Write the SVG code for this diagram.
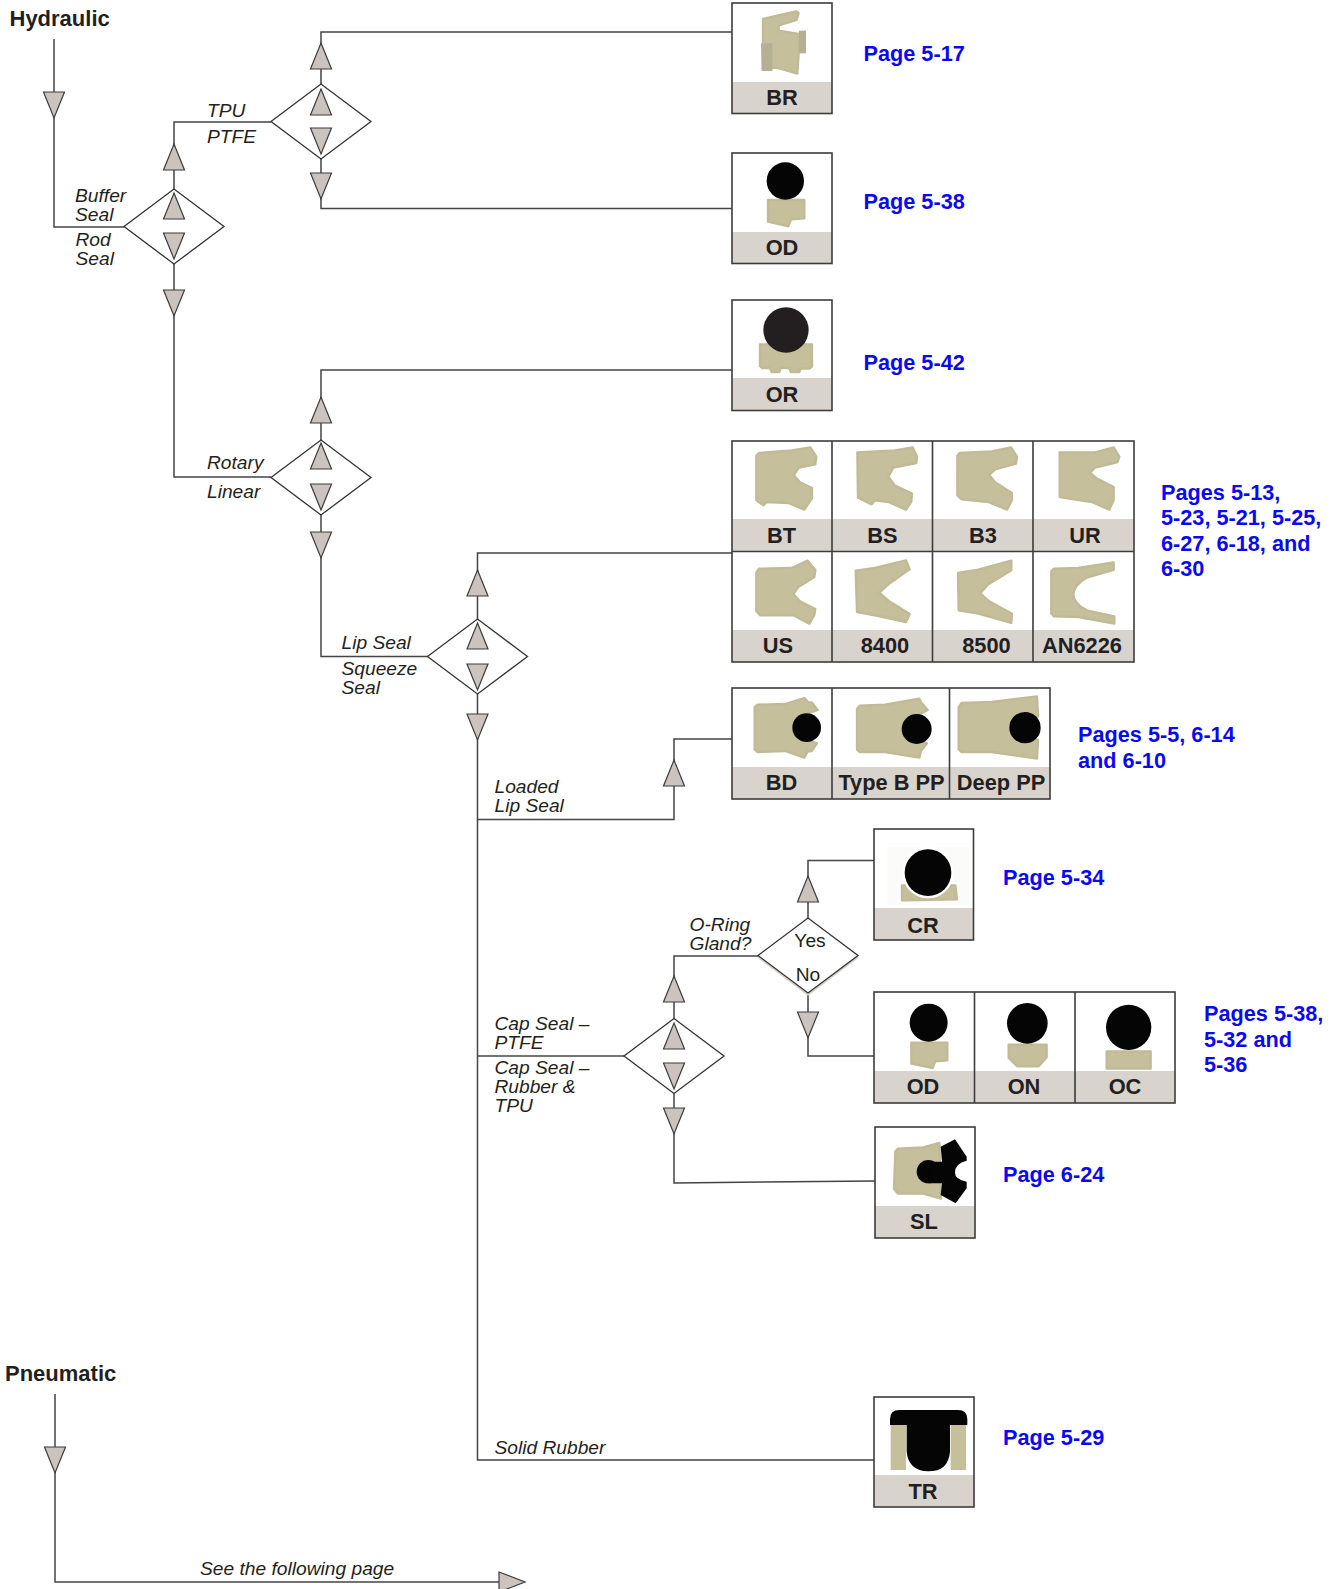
<svg xmlns="http://www.w3.org/2000/svg" width="1340" height="1589" viewBox="0 0 1340 1589">
<style>
text{font-family:"Liberation Sans",Arial,Helvetica,sans-serif;fill:#231f20}
.h{font-size:22px;font-weight:700}
.i{font-size:19.2px;font-style:italic}
.r{font-size:19.2px;text-anchor:middle}
.p{font-size:21.7px;font-weight:700;fill:#0a0af0}
.l{font-size:21.8px;font-weight:700;text-anchor:middle}
.c{fill:none;stroke:#444;stroke-width:1.5}
.a{fill:#cbc3bd;stroke:#3c3c3c;stroke-width:1.2;stroke-linejoin:miter}
.d{fill:#fff;stroke:#333;stroke-width:1.3}
.f{fill:#fff;stroke:none}
.b{fill:#d9d3ce;stroke:none}
.o{fill:none;stroke:#3c3c3c;stroke-width:1.6}
.s{fill:#c5bf9c;stroke:#c0ba97;stroke-width:7;stroke-linejoin:round}
.k{fill:#050505;stroke:none}
</style>
<defs>
<polygon id="up" class="a" points="0,0 10.5,26 -10.5,26"/>
<polygon id="dn" class="a" points="-10.5,0 10.5,0 0,26"/>
<polygon id="dm" class="d" points="-50,0 0,-37.5 50,0 0,37.5"/>
</defs>

<g id="connectors">
<path class="c" d="M54 39V227H124"/>
<path class="c" d="M174 189V122H271"/>
<path class="c" d="M321 84V32H732"/>
<path class="c" d="M321 159V208.500H732"/>
<path class="c" d="M174 264V477H271"/>
<path class="c" d="M321 440V370H732"/>
<path class="c" d="M321 515V656.500H428"/>
<path class="c" d="M477.500 619V553H732"/>
<path class="c" d="M477.500 694V1460H874"/>
<path class="c" d="M477.500 819.500H674V739H732"/>
<path class="c" d="M477.500 1056H624"/>
<path class="c" d="M674 1019V956H758"/>
<path class="c" d="M808 918V860.500H874"/>
<path class="c" d="M808 993V1056H874"/>
<path class="c" d="M674 1093V1183L875 1181"/>
<path class="c" d="M55 1394V1582H500"/>
<use href="#dn" x="54" y="92"/>
<use href="#up" x="174" y="144"/>
<use href="#dn" x="174" y="290"/>
<use href="#up" x="321" y="43"/>
<use href="#dn" x="321" y="173"/>
<use href="#up" x="321" y="397"/>
<use href="#dn" x="321" y="532"/>
<use href="#up" x="477.500" y="570"/>
<use href="#dn" x="477.500" y="714"/>
<use href="#up" x="674" y="760"/>
<use href="#up" x="674" y="976"/>
<use href="#dn" x="674" y="1108"/>
<use href="#up" x="808" y="876"/>
<use href="#dn" x="808" y="1012"/>
<use href="#dn" x="55" y="1447"/>
<polygon class="a" points="499,1572 525,1582 499,1592"/>
</g>

<g id="decision-buffer-rod"><use href="#dm" x="174" y="226.500"/><use href="#up" x="174" y="193"/><use href="#dn" x="174" y="233"/></g>
<g id="decision-tpu-ptfe"><use href="#dm" x="321" y="121.500"/><use href="#up" x="321" y="89"/><use href="#dn" x="321" y="128"/></g>
<g id="decision-rotary-linear"><use href="#dm" x="321" y="477.500"/><use href="#up" x="321" y="443"/><use href="#dn" x="321" y="484"/></g>
<g id="decision-lip-squeeze"><use href="#dm" x="477.500" y="656.500"/><use href="#up" x="477.500" y="623"/><use href="#dn" x="477.500" y="664"/></g>
<g id="decision-cap"><use href="#dm" x="674" y="1056"/><use href="#up" x="674" y="1023"/><use href="#dn" x="674" y="1063"/></g>
<g id="decision-gland">
<polyline points="758,957 808,994.500 858,957" fill="none" stroke="#d6cfc9" stroke-width="2"/>
<use href="#dm" x="808" y="955.500"/>
<text class="r" x="810" y="947">Yes</text><text class="r" x="808" y="981">No</text>
</g>

<g id="labels">
<text class="h" x="9.500" y="26">Hydraulic</text>
<text class="h" x="5" y="1381">Pneumatic</text>
<text class="i" x="207" y="116.500">TPU</text>
<text class="i" x="207" y="142.500">PTFE</text>
<text class="i" x="75" y="202">Buffer</text>
<text class="i" x="75" y="221">Seal</text>
<text class="i" x="75.500" y="246">Rod</text>
<text class="i" x="75.500" y="265">Seal</text>
<text class="i" x="207" y="469">Rotary</text>
<text class="i" x="207" y="497.500">Linear</text>
<text class="i" x="341.500" y="649">Lip Seal</text>
<text class="i" x="341.500" y="675">Squeeze</text>
<text class="i" x="341.500" y="694">Seal</text>
<text class="i" x="494.500" y="793">Loaded</text>
<text class="i" x="494.500" y="812">Lip Seal</text>
<text class="i" x="689.500" y="931">O-Ring</text>
<text class="i" x="689.500" y="950">Gland?</text>
<text class="i" x="494.500" y="1030">Cap Seal –</text>
<text class="i" x="494.500" y="1049">PTFE</text>
<text class="i" x="494.500" y="1074">Cap Seal –</text>
<text class="i" x="494.500" y="1093">Rubber &amp;</text>
<text class="i" x="494.500" y="1112">TPU</text>
<text class="i" x="494.500" y="1454">Solid Rubber</text>
<text class="i" x="200" y="1575">See the following page</text>
</g>

<g id="node-BR">
<rect class="f" x="732" y="3" width="100" height="110.500"/><rect class="b" x="732" y="82" width="100" height="31.500"/>
<g transform="translate(720,0) scale(.33333)">
<polygon class="s" points="129,57 228,34 236,39 230,60 176,76 176,92 236,102 236,160 232,221 170,203 129,208"/>
<polygon points="123,130 157,130 157,213 125,213" fill="#b4b094"/>
<rect x="237" y="92" width="21" height="68" fill="#b4b094"/>
</g>
<rect class="o" x="732" y="3" width="100" height="110.500"/>
<text class="l" x="782" y="105">BR</text>
</g>

<g id="node-OD-top">
<rect class="f" x="732" y="153" width="100" height="110.500"/><rect class="b" x="732" y="232" width="100" height="31.500"/>
<g transform="translate(720,0) scale(.33333)">
<polygon class="s" points="144,600 253,600 253,655 213,658 205,679 144,665"/>
<circle class="k" cx="196" cy="543" r="56"/>
</g>
<rect class="o" x="732" y="153" width="100" height="110.500"/>
<text class="l" x="782" y="255">OD</text>
</g>

<g id="node-OR">
<rect class="f" x="732" y="300" width="100" height="110.500"/><rect class="b" x="732" y="378" width="100" height="32.500"/>
<g transform="translate(720,0) scale(.33333)">
<polygon class="s" points="120,1033 276,1033 276,1100 268,1106 242,1106 238,1116 212,1116 208,1104 182,1104 178,1116 155,1116 150,1104 126,1104 120,1098"/>
<circle cx="198" cy="990" r="68" fill="#231f20"/>
</g>
<rect class="o" x="732" y="300" width="100" height="110.500"/>
<text class="l" x="782" y="401.500">OR</text>
</g>

<g id="node-lip-grid">
<rect class="f" x="732" y="441" width="402" height="221"/>
<rect class="b" x="732" y="519" width="402" height="32"/>
<rect class="b" x="732" y="630" width="402" height="32"/>
<g transform="translate(725,435) scale(.33333)">
<polygon class="s" points="94,62 102,54 200,46 256,37 274,65 271,88 222,98 206,120 225,142 261,159 261,190 238,224 190,204 125,201 115,211 94,196"/>
<polygon class="s" points="397,52 510,46 563,37 576,65 574,84 505,98 490,125 510,152 561,176 559,200 543,224 490,201 450,196 440,208 399,188"/>
<polygon class="s" points="697,62 704,54 800,49 858,37 876,65 873,86 810,103 793,120 810,142 861,174 861,195 846,224 790,201 710,193 697,181"/>
<polygon class="s" points="1004,52 1110,52 1166,37 1183,65 1178,81 1110,98 1095,113 1115,130 1166,156 1166,195 1153,224 1100,201 1004,186"/>
<polygon class="s" points="94,412 102,401 200,399 248,377 271,405 268,426 220,456 205,477 225,499 271,522 268,540 253,566 205,541 105,541 94,528"/>
<polygon class="s" points="392,407 450,399 543,376 554,403 490,448 463,473 490,497 554,537 543,561 450,541 396,531"/>
<polygon class="s" points="699,414 760,404 859,377 859,406 790,448 766,475 790,497 861,536 859,564 760,536 701,526"/>
<path class="s" d="M979 409L987 401L1060 399L1166 382V405L1085 428Q1045 450 1045 480Q1048 507 1085 526L1168 544V566L1060 546L987 544L979 536Z"/>
</g>
<rect class="o" x="732" y="441" width="402" height="221"/>
<path class="o" d="M832 441V662M932.500 441V662M1033 441V662M732 551.500H1134" stroke-width="1.800"/>
<text class="l" x="781.500" y="542.500">BT</text>
<text class="l" x="882.500" y="542.500">BS</text>
<text class="l" x="983" y="542.500">B3</text>
<text class="l" x="1085" y="542.500">UR</text>
<text class="l" x="778" y="653">US</text>
<text class="l" x="885" y="653">8400</text>
<text class="l" x="986.500" y="653">8500</text>
<text class="l" x="1082" y="653">AN6226</text>
</g>

<g id="node-loaded-lip">
<rect class="f" x="732" y="688" width="318" height="111"/>
<rect class="b" x="732" y="767" width="318" height="32"/>
<g transform="translate(725,435) scale(.33333)">
<polygon class="s" points="89,817 97,809 180,807 238,789 250,802 260,802 278,825 210,850 210,900 276,925 260,948 248,950 238,968 180,948 97,951 89,943"/>
<polygon class="s" points="396,822 404,812 480,809 583,791 588,802 608,825 540,860 540,900 606,925 588,948 583,968 480,951 404,951 396,943"/>
<polygon class="s" points="701,817 709,804 800,801 936,784 939,845 880,860 880,900 939,915 936,971 800,951 709,951 701,943"/>
<circle class="k" cx="245" cy="878" r="43"/>
<circle class="k" cx="575" cy="882" r="45"/>
<circle class="k" cx="900" cy="878" r="47"/>
</g>
<rect class="o" x="732" y="688" width="318" height="111"/>
<path class="o" d="M832 688V799M949.500 688V799"/>
<text class="l" x="781.500" y="790">BD</text>
<text class="l" x="891.500" y="790">Type B PP</text>
<text class="l" x="1001" y="790">Deep PP</text>
</g>

<g id="node-CR">
<rect class="f" x="874" y="829" width="99.500" height="111"/><rect class="b" x="874" y="908" width="99.500" height="32"/>
<g transform="translate(860,820) scale(.33333)">
<rect x="80" y="82" width="250" height="173" fill="#fbfbf9"/>
<polygon class="s" points="126,196 286,196 291,238 126,241"/>
<circle cx="204" cy="158" r="77" fill="#fff"/>
<circle class="k" cx="204" cy="158" r="70"/>
</g>
<rect class="o" x="874" y="829" width="99.500" height="111"/>
<text class="l" x="923" y="932.500">CR</text>
</g>

<g id="node-cap-trio">
<rect class="f" x="874" y="992" width="301" height="111"/>
<rect class="b" x="874" y="1071" width="301" height="32"/>
<g transform="translate(860,820) scale(.33333)">
<polygon class="s" points="154,668 262,668 262,721 226,724 218,744 154,731"/>
<polygon class="s" points="446,674 560,674 560,712 536,739 472,739 446,714"/>
<rect class="s" x="740" y="694" width="132" height="52"/>
<circle class="k" cx="206" cy="608" r="57"/>
<circle class="k" cx="502" cy="610" r="61"/>
<circle class="k" cx="806" cy="622" r="68"/>
</g>
<rect class="o" x="874" y="992" width="301" height="111"/>
<path class="o" d="M974.500 992V1103M1075 992V1103"/>
<text class="l" x="923" y="1094">OD</text>
<text class="l" x="1024" y="1094">ON</text>
<text class="l" x="1125" y="1094">OC</text>
</g>

<g id="node-SL">
<rect class="f" x="875" y="1127" width="100" height="111"/><rect class="b" x="875" y="1206" width="100" height="32"/>
<g transform="translate(860,820) scale(.33333)">
<polygon class="s" points="106,994 114,986 190,982 238,969 243,1136 190,1121 114,1121 102,1106"/>
<circle class="k" cx="205" cy="1055" r="35"/>
<path class="k" d="M242 980L285 958L320 1010V1022Q285 1030 285 1058Q285 1078 320 1085V1105L287 1150L242 1125L246 1090H205V1025H246Z"/>
</g>
<rect class="o" x="875" y="1127" width="100" height="111"/>
<text class="l" x="924" y="1229">SL</text>
</g>

<g id="node-TR">
<rect class="f" x="874" y="1397" width="100" height="110"/><rect class="b" x="874" y="1475" width="100" height="32"/>
<g transform="translate(860,1380) scale(.33333)">
<rect x="92" y="130" width="46" height="140" fill="#c5bf9c"/>
<rect x="272" y="130" width="46" height="140" fill="#c5bf9c"/>
<path class="k" d="M90 135V118Q90 90 118 90H294Q322 90 322 118V135H270V215Q265 274 205 274Q145 272 140 215V135Z"/>
</g>
<rect class="o" x="874" y="1397" width="100" height="110"/>
<text class="l" x="923" y="1499">TR</text>
</g>

<g id="page-references">
<text class="p" x="863.500" y="61">Page 5-17</text>
<text class="p" x="863.500" y="209">Page 5-38</text>
<text class="p" x="863.500" y="370">Page 5-42</text>
<text class="p" x="1161" y="500">Pages 5-13,</text>
<text class="p" x="1161" y="525">5-23, 5-21, 5-25,</text>
<text class="p" x="1161" y="551">6-27, 6-18, and</text>
<text class="p" x="1161" y="576">6-30</text>
<text class="p" x="1078" y="742">Pages 5-5, 6-14</text>
<text class="p" x="1078" y="768">and 6-10</text>
<text class="p" x="1003" y="885">Page 5-34</text>
<text class="p" x="1204" y="1021">Pages 5-38,</text>
<text class="p" x="1204" y="1046.500">5-32 and</text>
<text class="p" x="1204" y="1072">5-36</text>
<text class="p" x="1003" y="1182">Page 6-24</text>
<text class="p" x="1003" y="1445">Page 5-29</text>
</g>
</svg>
